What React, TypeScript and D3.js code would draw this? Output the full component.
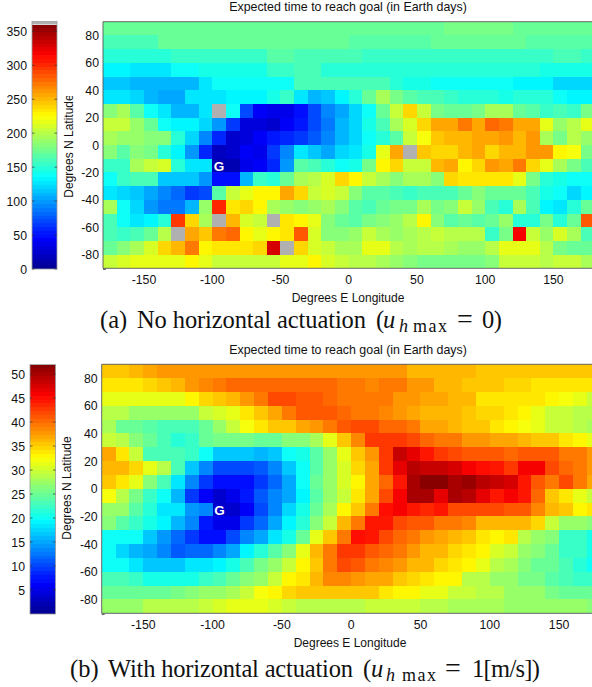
import React from 'react';
import * as d3 from 'd3';

const width = 592;
const height = 687;

// cell left edges and top edges, in degrees
const lonCells = d3.range(-180, 180, 10);
const latCells = d3.range(90, -90, -10);
const lonTicks = [-150, -100, -50, 0, 50, 100, 150];
const latTicks = [80, 60, 40, 20, 0, -20, -40, -60, -80];
const barTicksA = [0, 50, 100, 150, 200, 250, 300, 350];
const barTicksB = [5, 10, 15, 20, 25, 30, 35, 40, 45, 50];

// no horizontal actuation, null = did not reach goal (gray)
const daysA: (number | null)[][] = [
  [172,172,172,172,172,172,172,172,172,172,172,172,172,172,172,172,172,172,172,172,172,172,172,172,172,178,178,178,178,178,172,172,172,172,172,172],
  [163,163,163,163,172,172,172,172,172,172,172,172,172,172,172,172,172,172,165,165,165,165,165,165,172,172,172,172,172,172,172,165,165,165,165,165],
  [148,148,148,148,148,153,152,152,152,156,156,156,165,165,160,160,160,160,160,156,156,156,156,156,156,156,156,156,156,156,156,156,156,158,158,152],
  [133,133,128,128,128,135,138,143,143,143,146,146,152,152,158,158,150,150,150,150,150,150,150,150,150,150,150,150,150,150,150,150,146,146,142,142],
  [115,118,112,112,112,112,112,125,135,138,138,138,140,140,158,158,158,158,158,158,158,150,146,146,140,140,140,135,135,135,130,130,130,122,122,122],
  [125,125,122,112,105,105,125,125,125,130,130,133,145,152,125,108,115,130,150,172,192,178,168,162,158,152,148,148,148,142,148,148,148,140,133,133],
  [180,195,165,135,128,108,108,128,null,135,70,40,38,35,50,70,92,105,120,140,170,208,240,205,178,172,172,178,195,195,170,165,152,158,155,175],
  [205,205,190,172,135,133,133,122,100,65,30,30,28,42,52,72,88,108,120,142,160,195,210,240,255,258,272,255,280,272,255,255,215,190,200,215],
  [195,190,190,180,182,150,122,92,60,25,30,40,55,60,65,78,90,108,122,138,150,168,205,220,245,250,250,255,255,262,252,262,195,175,200,190],
  [185,165,180,175,150,132,98,58,18,25,40,38,65,92,125,118,105,122,128,142,215,255,null,245,240,240,250,258,238,250,250,262,262,228,222,175],
  [155,155,195,205,210,148,125,125,15,15,35,40,60,100,168,160,150,135,145,178,225,240,205,205,250,255,225,240,262,258,270,240,215,195,178,158],
  [140,155,158,158,118,118,118,100,45,45,110,155,150,170,195,200,212,240,230,208,192,180,192,192,182,240,232,232,232,236,218,175,150,143,138,138],
  [128,122,118,105,92,82,65,68,165,205,215,225,225,258,238,205,210,205,180,165,165,158,155,158,158,158,170,185,172,172,172,160,145,135,122,130],
  [195,135,120,100,88,85,112,190,302,235,240,228,195,190,185,190,195,180,165,158,170,178,178,195,178,185,205,190,158,150,195,158,133,128,150,170],
  [158,135,128,130,148,293,240,195,null,250,213,208,null,235,226,218,183,172,165,175,185,190,198,226,185,165,172,165,170,190,150,150,175,150,170,285],
  [160,155,158,170,198,null,255,245,275,278,225,218,225,235,283,212,185,185,190,205,195,190,195,200,205,198,200,200,155,175,315,205,190,212,195,160],
  [172,180,195,212,240,250,275,225,235,235,235,240,330,null,240,212,205,195,195,215,215,200,195,200,200,192,188,190,200,215,218,215,200,175,172,170],
  [205,212,218,218,218,218,226,218,208,208,208,208,208,215,218,226,212,205,200,200,195,190,185,178,178,178,178,178,185,205,208,205,200,208,205,195],
];

// with horizontal actuation
const daysB: number[][] = [
  [35.5,35.5,36.5,37,38,38,37.5,37.5,37.5,37.5,37.5,37.5,37.5,37.5,37.5,37.5,37.5,37.5,38,38,37.7,37.7,36,36,36,36,36,35.5,35.5,35,35,35,35,35,35,35],
  [33.5,33.5,33.5,34.5,35.5,36,38,38.8,39.5,40,40,40,40,40,40,40,40,39,39,38.5,39,39,37.5,37.5,36.5,36.5,35.5,35.5,35.5,34.5,34.5,33.5,33.5,33.5,33.5,33.5],
  [31,31,31,31,31,31,32.5,34.5,35,36,37.5,39,41.5,41.5,41,41,40.5,39.5,39,39,39,38,38,37,37,36,36,34,34,34,33.5,33.5,32.5,32,31,30],
  [28.5,28.5,27.5,27.5,27,27,27,29.5,30.5,31.5,33.5,35.5,37,39,41,41,41,40.5,39,39,38.5,38,37,36.5,36.5,36,35,34.5,34.5,33.5,32.5,31,30,30,29,29],
  [28,25,24.5,24,23,23,23,24.5,27.5,29.5,32,33.5,35,35.5,37,37.5,39.5,41,41.5,41.5,40.5,40,39,37,37,36.5,35.5,35,33.5,33,32,31,30,29.5,28.5,28],
  [30,28.5,26,25,23.5,21.5,22.5,25,25.5,25.5,25.5,25,25,26,26.5,28,31,35,38.5,43,43,42.5,41.5,40,39.5,39,38,37.5,37,37,36.5,35.5,35,34,33,31],
  [37,33.5,30,23.5,23,23,22.5,19.5,17,17,17,15.5,17,20,21,24,27.5,31.5,35.5,38,43,48.5,47,44,42.5,42,41,41,41,40.5,41,41,41,39.5,39,38],
  [36,36,34.5,31.5,28.5,23,17,13,10,10,10,11,13.5,16.5,20,24,27,30.5,34.5,37,42.5,46.5,49.5,48,48,47.5,46,45,44,42.5,46,46,42,40,39,37.5],
  [35,33.5,31.5,26.5,23,18.5,13,9.5,6.5,6.5,7,9,12,15,20,24.5,27,30.5,33,37,40,44.5,50,52,52,50,51,49,48.5,47.5,44.5,41,39.5,41.5,39,37],
  [32,29,25.5,22.5,20,16,9.5,6,3.5,5,8,11,13,15,19,24,27,30,33.5,37,42,46,50,50,47,50,49,47,44,45.5,44.5,40.5,35.5,33.5,31.5,30],
  [27.5,27.5,24,21.5,18.5,18.5,14.5,13,3.5,3.5,6,10,13.5,17.5,21,25,28,32.5,35.5,39,45,46,44.5,43.5,44.5,42,42,42,42,41,41,38.5,36.5,35,33,34],
  [26.5,24,22,20.5,19,16,13.5,7.5,5,5.5,9,11.5,15,19,21.5,26,30,36.5,39,44,44,41.5,41,41,39.5,39.5,38.5,36.5,36.5,36.5,36.5,34.5,30,27.5,27,26.5],
  [19.5,19.5,19.5,16.5,14,11.5,9,7,7,10,13,15,18,21,25,31,35,39,45,44,42,40.5,39,38,37,36.5,35.5,34,32.5,33.5,29,27,26,22.5,22.5,20.5],
  [20,17.5,16,15,13.5,11,11.5,12,13,15,19,21.5,24,26.5,31,36.5,39.5,42.5,42.5,41,40.5,39.5,37.5,36.5,36,34.5,33.5,32.5,30.5,30,27,26,24.5,22,22,21],
  [20,19.5,18.5,16.5,16.5,16.5,18,18,19,20.5,23,25.5,27,29.5,32.5,35,39,42,41,39.5,38.5,37.5,36.5,36,34.5,33.5,32.5,31,28.5,28,26,25,25,23,21.5,19.5],
  [23,23,22,20.5,20.5,20.5,21,22.5,23.5,24.5,26.5,27.5,29.5,32.5,34,36.5,38.5,38.5,37.5,37,37,35,34.5,34,33,32.5,29,28.5,27.5,27,25.5,25.5,24,23,22.5,22],
  [24.5,24.5,24.5,24.5,25,25.5,26,27,27.5,28,30,32,33,34.5,35,35,35,35,35,35,34,33,32.5,31,31,30,30,28.5,28.5,27.5,27,27,25.5,25,25,25],
  [27.5,27.5,27.5,28.5,28.5,29,29,29.5,30.5,31.5,31.5,31,30.5,30,29,29,29,29,29,29.5,30,30,30,29,29,28,28,28,28,27.5,27.5,27.5,27.5,27.5,27.5,26.5],
];

const jet = d3.scaleLinear<string>()
  .domain([0, 0.125, 0.375, 0.625, 0.875, 1])
  .range(['#00008f', '#0000ff', '#00ffff', '#ffff00', '#ff0000', '#800000']);
const levels = d3.range(64).map(i => jet((i + 0.5) / 64));

const sans = '"Liberation Sans", Arial, sans-serif';
const serif = '"Liberation Serif", "Times New Roman", serif';
const axisGray = '#555';

type PanelProps = {
  id: string;
  days: (number | null)[][];
  maxDays: number;
  barTicks: number[];
  plot: { left: number; top: number; bottom: number; cell: number };
  bar: { left: number; right: number; top: number; bottom: number; capTop?: number };
  titleY: number;
  lonLabelX: number;
  lonLabelY: number;
  lonTickY: number;
  latLabelX: number;
  latLabelY: number;
  latLabelEnd: number;
};

const Panel = ({ id, days, maxDays, barTicks, plot, bar, titleY, lonLabelX, lonLabelY, lonTickY, latLabelX, latLabelY, latLabelEnd }: PanelProps) => {
  const x = d3.scaleLinear().domain([-180, 180]).range([plot.left, plot.left + plot.cell * 36]);
  const y = d3.scaleLinear().domain([90, -90]).range([plot.top, plot.bottom]);
  const colour = d3.scaleQuantize<string>().domain([0, maxDays]).range(levels);
  const barY = d3.scaleLinear().domain([0, maxDays]).range([bar.bottom, bar.top]);
  const barSteps = d3.range(64).map(i => (i * maxDays) / 64);

  return (
    <g fontFamily={sans} fill="#111">
      <defs>
        <clipPath id={`lat-${id}`}>
          <rect x={0} y={latLabelEnd} width={100} height={200} />
        </clipPath>
        <clipPath id={`lon-${id}`}>
          <rect x={lonLabelX - 60} y={lonLabelY - 16} width={117} height={24} />
        </clipPath>
        <clipPath id={`plot-${id}`}>
          <rect x={plot.left} y={plot.top} width={width - plot.left} height={plot.bottom - plot.top} />
        </clipPath>
        <clipPath id={`bar-${id}`}>
          <rect x={bar.left} y={bar.capTop ?? bar.top} width={bar.right - bar.left} height={bar.bottom - (bar.capTop ?? bar.top)} />
        </clipPath>
      </defs>

      <text x={348} y={titleY} fontSize={12.4} textAnchor="middle">Expected time to reach goal (in Earth days)</text>

      {/* colour bar */}
      <g clipPath={`url(#bar-${id})`}>
        <g filter="url(#soft)">
          {bar.capTop !== undefined && (
            <rect x={bar.left} y={bar.capTop} width={bar.right - bar.left} height={bar.top - bar.capTop} fill="#b0b0b0" />
          )}
          {barSteps.map((v, i) => (
            <rect
              key={i}
              x={bar.left}
              y={barY(v + maxDays / 64)}
              width={bar.right - bar.left}
              height={barY(v) - barY(v + maxDays / 64)}
              fill={levels[i]}
              shapeRendering="crispEdges"
            />
          ))}
        </g>
      </g>
      <rect x={bar.left} y={bar.capTop ?? bar.top} width={bar.right - bar.left} height={bar.bottom - (bar.capTop ?? bar.top)} fill="none" stroke="#999" strokeWidth={0.8} />
      {barTicks.map(t => (
        <g key={t}>
          <line x1={bar.left} x2={bar.left + 2.5} y1={barY(t)} y2={barY(t)} stroke="#333" strokeWidth={0.7} />
          <line x1={bar.right - 2.5} x2={bar.right} y1={barY(t)} y2={barY(t)} stroke="#333" strokeWidth={0.7} />
          <text x={bar.left - 5} y={barY(t) + 4.5} fontSize={12.3} textAnchor="end">{t}</text>
        </g>
      ))}

      {/* heat map */}
      <g clipPath={`url(#plot-${id})`}>
        <g filter="url(#soft)">
          {days.map((row, r) =>
            row.map((v, c) => (
              <rect
                key={`${r}-${c}`}
                x={x(lonCells[c])}
                y={y(latCells[r])}
                width={x(lonCells[c] + 10) - x(lonCells[c])}
                height={y(latCells[r] - 10) - y(latCells[r])}
                fill={v === null ? '#b0b0b0' : colour(v)}
                shapeRendering="crispEdges"
              />
            ))
          )}
        </g>
      </g>
      <path
        d={`M${width},${plot.top}H${plot.left}V${plot.bottom}H${width}`}
        fill="none"
        stroke={axisGray}
        strokeWidth={0.9}
      />
      <line x1={plot.left} x2={plot.left + 3} y1={plot.bottom + 1} y2={plot.bottom + 1} stroke="#222" strokeWidth={0.8} />

      {lonTicks.map(t => (
        <text key={t} x={x(t)} y={lonTickY} fontSize={12.3} textAnchor="middle">{t}</text>
      ))}
      {latTicks.map(t => (
        <text key={t} x={plot.left - 4} y={y(t) + 4.5} fontSize={12.3} textAnchor="end">{t}</text>
      ))}

      <text
        x={x(-95)}
        y={y(-15) + 5}
        fontSize={13.5}
        fontWeight="bold"
        textAnchor="middle"
        fill="#fff"
      >G</text>

      <text clipPath={`url(#lon-${id})`} x={lonLabelX} y={lonLabelY} fontSize={12} textAnchor="middle">Degrees E Longitude</text>
      <g clipPath={`url(#lat-${id})`}>
        <text transform={`translate(${latLabelX},${latLabelY}) rotate(-90)`} fontSize={12} textAnchor="middle">Degrees N Latitude</text>
      </g>
    </g>
  );
};

type CaptionProps = {
  y: number;
  tag: string;
  tagX: number;
  words: string;
  wordsX: number;
  wordsW: number;
  parenX: number;
  uX: number;
  hX: number;
  maxX: number;
  eqX: number;
  value: string;
  valueX: number;
  valueW: number;
};

const Caption = ({ y, tag, tagX, words, wordsX, wordsW, parenX, uX, hX, maxX, eqX, value, valueX, valueW }: CaptionProps) => (
  <g fontFamily={serif} fontSize={24.5} fill="#111">
    <text x={tagX} y={y}>{tag}</text>
    <text x={wordsX} y={y} textLength={wordsW} lengthAdjust="spacing">{words}</text>
    <text x={parenX} y={y}>(</text>
    <text x={uX} y={y} fontStyle="italic">u</text>
    <text x={hX} y={y + 3.5} fontStyle="italic" fontSize={18}>h</text>
    <text x={maxX} y={y + 3.5} fontSize={18} textLength={34} lengthAdjust="spacing">max</text>
    <text x={eqX} y={y} fontSize={28}>=</text>
    <text x={valueX} y={y} textLength={valueW} lengthAdjust="spacing">{value}</text>
  </g>
);

export default function App() {
  return (
    <svg width={width} height={height} style={{ position: 'absolute', left: 0, top: 0, display: 'block' }}>
      <defs>
        <filter id="soft" x="-2%" y="-2%" width="104%" height="104%">
          <feGaussianBlur stdDeviation={0.45} />
        </filter>
      </defs>
      <rect width={width} height={height} fill="#fff" />
      <Panel
        id="a"
        days={daysA}
        maxDays={360}
        barTicks={barTicksA}
        plot={{ left: 103, top: 21.7, bottom: 268.3, cell: 13.65 }}
        bar={{ left: 32, right: 57, top: 24.5, bottom: 269, capTop: 21.5 }}
        titleY={11}
        lonLabelX={348}
        lonLabelY={301.5}
        lonTickY={284}
        latLabelX={73}
        latLabelY={146}
        latLabelEnd={96}
      />
      <Panel
        id="b"
        days={daysB}
        maxDays={52}
        barTicks={barTicksB}
        plot={{ left: 101.7, top: 364.3, bottom: 613.3, cell: 13.86 }}
        bar={{ left: 30, right: 55.5, top: 364.5, bottom: 614 }}
        titleY={354}
        lonLabelX={350}
        lonLabelY={647}
        lonTickY={629}
        latLabelX={71}
        latLabelY={488}
        latLabelEnd={436}
      />
      <Caption
        y={328}
        tag="(a)"
        tagX={100}
        words="No horizontal actuation"
        wordsX={137}
        wordsW={229}
        parenX={376}
        uX={383}
        hX={399}
        maxX={413}
        eqX={457}
        value="0)"
        valueX={482}
        valueW={20}
      />
      <Caption
        y={677}
        tag="(b)"
        tagX={70}
        words="With horizontal actuation"
        wordsX={108}
        wordsW={245}
        parenX={363}
        uX={371}
        hX={386}
        maxX={402}
        eqX={445}
        value="1[m/s])"
        valueX={472}
        valueW={68}
      />
    </svg>
  );
}
